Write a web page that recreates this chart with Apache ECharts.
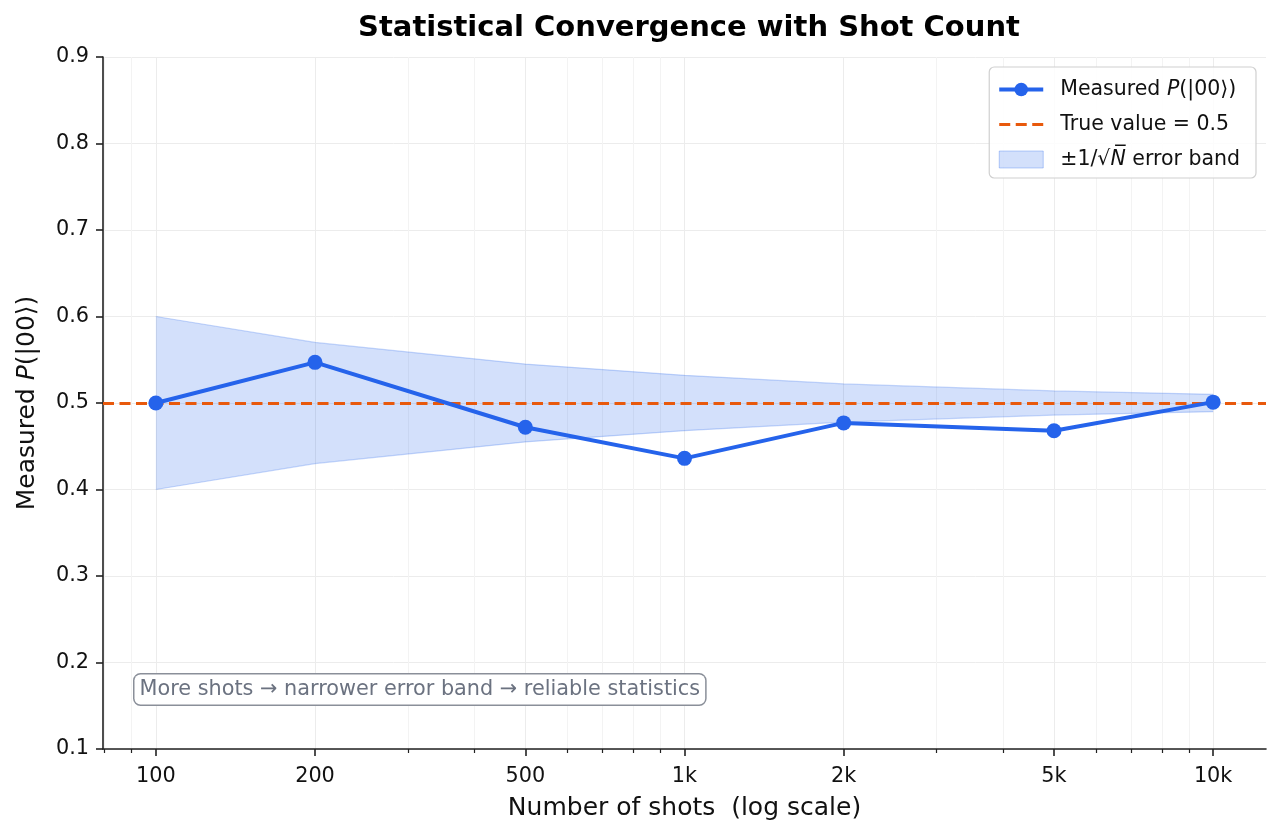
<!DOCTYPE html>
<html>
<head>
<meta charset="utf-8">
<script src="https://cdn.jsdelivr.net/npm/echarts@6/dist/echarts.min.js"></script>
<style>
  html, body { margin: 0; padding: 0; background: #fff; }
  #chart { width: 1280px; height: 835px; }
</style>
</head>
<body>
<div id="chart"></div>
<script>
// data
const shots = [100, 200, 500, 1000, 2000, 5000, 10000];
const measured = [0.500, 0.547, 0.472, 0.436, 0.477, 0.468, 0.501];
const bandUpper = [0.600, 0.570, 0.545, 0.532, 0.522, 0.514, 0.510];
const bandLower = [0.400, 0.430, 0.455, 0.468, 0.478, 0.486, 0.490];
const trueValue = 0.5;

const xTicks = [100, 200, 500, 1000, 2000, 5000, 10000];
const xTickLabels = ['100', '200', '500', '1k', '2k', '5k', '10k'];
const xMinorTicks = [80, 90, 300, 400, 600, 700, 800, 900, 3000, 4000, 6000, 7000, 8000, 9000];
const xMin = 79.43, xMax = 12589;

const blue = '#2563eb';
const orange = '#e8590c';
const font = 'DejaVu Sans';

const myChart = echarts.init(document.getElementById('chart'));

// value first, shot second -> stacking happens on y (encode below)
const lowerData = shots.map((s, i) => [bandLower[i], s]);
const bandData = shots.map((s, i) => [bandUpper[i] - bandLower[i], s]);
const measData = shots.map((s, i) => [s, measured[i]]);

const option = {
  animation: false,
  title: {
    text: 'Statistical Convergence with Shot Count',
    left: 684, top: 9, textAlign: 'center',
    textStyle: { fontFamily: font, fontSize: 29, fontWeight: 'bold', color: '#000' }
  },
  grid: { left: 103, right: 14, top: 57, bottom: 86 },
  legend: {
    right: 24, top: 67,
    orient: 'vertical',
    padding: [12, 16, 8, 8],
    itemGap: 14,
    itemWidth: 44, itemHeight: 17,
    backgroundColor: 'rgba(255,255,255,0.85)',
    borderColor: '#d0d0d0', borderWidth: 1.2, borderRadius: 5,
    data: [
      { name: 'meas', lineStyle: { width: 4 } },
      { name: 'truth', itemStyle: { opacity: 0 }, lineStyle: { width: 2.8 } },
      { name: 'band', icon: 'rect', itemStyle: { color: 'rgba(37,99,235,0.2)', borderColor: 'rgba(37,99,235,0.3)', borderWidth: 1 } }
    ],
    formatter: function (name) {
      if (name === 'meas') return '{n|Measured }{i|P}{n|(|00⟩)}';
      if (name === 'truth') return '{n|True value = 0.5}';
      return '{n|±1/√}{i|N\u0305}{n| error band}';
    },
    textStyle: {
      fontFamily: font, fontSize: 20.5, color: '#111', padding: [0, 0, 0, 12],
      rich: {
        n: { fontFamily: font, fontSize: 20.5, color: '#111' },
        i: { fontFamily: font, fontSize: 20.5, fontStyle: 'italic', color: '#111' }
      }
    }
  },
  xAxis: [
    {
      type: 'log', min: xMin, max: xMax,
      name: 'Number of shots  (log scale)',
      nameLocation: 'middle', nameGap: 47,
      nameTextStyle: { fontFamily: font, fontSize: 25, color: '#111' },
      axisLine: { lineStyle: { color: '#222', width: 1.6 } },
      axisTick: { customValues: xTicks, length: 7, lineStyle: { color: '#222', width: 1.6 } },
      axisLabel: {
        customValues: xTicks, margin: 17,
        fontFamily: font, fontSize: 20.8, color: '#111',
        formatter: v => xTickLabels[xTicks.indexOf(Math.round(v))]
      },
      splitLine: { show: true, lineStyle: { color: '#ececec', width: 1 } }
    },
    {
      type: 'log', min: xMin, max: xMax, gridIndex: 0, position: 'bottom',
      axisLine: { show: false },
      axisTick: { customValues: xMinorTicks, length: 4, lineStyle: { color: '#222', width: 1.2 } },
      axisLabel: { show: false },
      splitLine: { show: true, lineStyle: { color: '#f3f3f3', width: 1 } }
    }
  ],
  yAxis: {
    type: 'value', min: 0.1, max: 0.9, interval: 0.1,
    name: '{n|Measured }{i|P}{n|(|00⟩)}',
    nameLocation: 'middle', nameGap: 63,
    nameTextStyle: {
      rich: {
        n: { fontFamily: font, fontSize: 25, color: '#111' },
        i: { fontFamily: font, fontSize: 25, fontStyle: 'italic', color: '#111' }
      }
    },
    axisLine: { show: true, lineStyle: { color: '#222', width: 1.6 } },
    axisTick: { show: true, length: 7, lineStyle: { color: '#222', width: 1.6 } },
    axisLabel: {
      margin: 14, fontFamily: font, fontSize: 20.8, color: '#111',
      lineHeight: 26, verticalAlign: 'middle', padding: [6, 0, 0, 0],
      formatter: v => v.toFixed(1)
    },
    splitLine: { show: true, lineStyle: { color: '#ececec', width: 1 } }
  },
  series: [
    {
      name: 'lower', type: 'line', stack: 'band', data: lowerData,
      encode: { x: 1, y: 0 },
      symbol: 'none', silent: true,
      lineStyle: { color: 'rgba(37,99,235,0.25)', width: 1.2 }
    },
    {
      name: 'band', type: 'line', stack: 'band', data: bandData,
      encode: { x: 1, y: 0 },
      symbol: 'none', silent: true,
      lineStyle: { color: 'rgba(37,99,235,0.25)', width: 1.2 },
      itemStyle: { color: 'rgba(37,99,235,0.2)' },
      areaStyle: { color: 'rgba(37,99,235,0.2)', opacity: 1 }
    },
    {
      name: 'truth', type: 'line', data: [],
      symbol: 'none',
      itemStyle: { color: orange },
      lineStyle: { color: orange, width: 2.8, type: [11, 5.5] },
      markLine: {
        silent: true, symbol: 'none', label: { show: false },
        lineStyle: { color: orange, width: 2.8, type: [11, 5.5] },
        data: [{ yAxis: trueValue }]
      }
    },
    {
      name: 'meas', type: 'line', data: measData,
      symbol: 'circle', symbolSize: 15,
      itemStyle: { color: blue },
      lineStyle: { color: blue, width: 4 },
      z: 5
    }
  ],
  graphic: [
    {
      type: 'text', left: 133, top: 673, z: 100,
      style: {
        text: 'More shots → narrower error band → reliable statistics',
        fontFamily: font, fontSize: 20.8, fill: '#6b7280',
        backgroundColor: '#fff', borderColor: '#8a8f99', borderWidth: 1.5,
        borderRadius: 6, padding: [5, 5, 4, 5]
      }
    }
  ]
};

myChart.setOption(option);
</script>
</body>
</html>
